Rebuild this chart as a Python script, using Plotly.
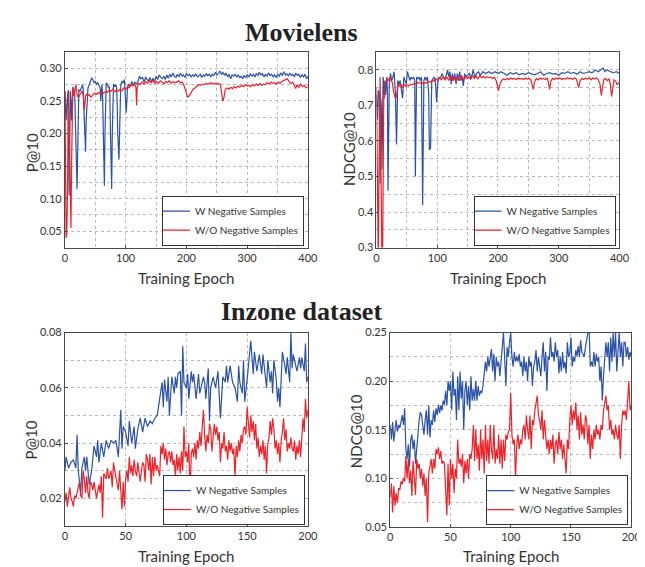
import plotly.graph_objects as go

# ---------------- data (epoch, value) ----------------
# Movielens P@10, with negative samples
ml_p_w = [(0,0.265),(1,0.25),(2,0.22),(3,0.24),(4,0.255),(5,0.265),(6,0.18),(7,0.105),(8,0.19),(9,0.265),
          (10,0.25),(11,0.22),(12,0.25),(13,0.272),(14,0.265),(15,0.262),(16,0.268),(17,0.22),(18,0.17),(19,0.13),
          (20,0.115),(21,0.17),(22,0.24),(23,0.268),(25,0.265),(27,0.272),(29,0.275),(30,0.27),(31,0.24),(33,0.18),
          (34,0.172),(35,0.22),(37,0.265),(38,0.27),(40,0.275),(42,0.282),(44,0.285),(46,0.283),(48,0.278),(50,0.28),
          (52,0.276),(54,0.278),(56,0.273),(58,0.27),(59,0.25),(60,0.262),(61,0.275),(62,0.26),(63,0.2),(64,0.145),
          (65,0.12),(66,0.2),(67,0.27),(68,0.278),(70,0.275),(72,0.27),(73,0.272),(74,0.26),(75,0.2),(76,0.14),
          (77,0.115),(78,0.2),(79,0.27),(80,0.276),(82,0.272),(84,0.275),(85,0.27),(86,0.25),(87,0.2),(88,0.17),
          (89,0.16),(90,0.2),(91,0.265),(92,0.275),(94,0.28),(96,0.278),(98,0.283),(99,0.27),(100,0.25),(101,0.232),
          (102,0.25),(103,0.27),(105,0.276),(108,0.272),(110,0.28),(113,0.274),(115,0.279),(118,0.276),(120,0.28),
          (123,0.288),(125,0.284),(128,0.286),(130,0.279),(133,0.287),(135,0.283),(138,0.281),(140,0.286),(143,0.279),
          (145,0.285),(148,0.28),(150,0.288),(153,0.283),(155,0.29),(158,0.286),(160,0.284),(163,0.288),(165,0.283),
          (168,0.29),(170,0.285),(173,0.291),(175,0.287),(178,0.293),(180,0.288),(183,0.286),(185,0.291),(188,0.287),
          (190,0.293),(193,0.288),(195,0.29),(198,0.286),(200,0.292),(203,0.289),(205,0.291),(208,0.287),(210,0.29),
          (213,0.288),(215,0.292),(218,0.287),(220,0.289),(223,0.291),(225,0.286),(228,0.29),(230,0.288),(233,0.292),
          (235,0.289),(238,0.291),(240,0.287),(243,0.291),(245,0.289),(248,0.294),(250,0.29),(253,0.292),(255,0.296),
          (258,0.291),(260,0.294),(263,0.289),(265,0.293),(268,0.287),(270,0.291),(273,0.284),(275,0.29),(278,0.288),
          (280,0.291),(283,0.287),(285,0.29),(288,0.286),(290,0.288),(293,0.284),(295,0.289),(298,0.286),(300,0.29),
          (303,0.287),(305,0.292),(308,0.288),(310,0.291),(313,0.287),(315,0.292),(318,0.289),(320,0.294),(323,0.29),
          (325,0.292),(328,0.287),(330,0.291),(333,0.288),(335,0.293),(338,0.289),(340,0.291),(343,0.287),(345,0.29),
          (348,0.286),(350,0.291),(353,0.288),(355,0.293),(358,0.289),(360,0.295),(363,0.29),(365,0.292),(368,0.288),
          (370,0.293),(373,0.289),(375,0.291),(378,0.287),(380,0.293),(383,0.289),(385,0.291),(388,0.286),(390,0.29),
          (393,0.287),(395,0.291),(398,0.284),(400,0.288)]
# Movielens P@10, without negative samples
ml_p_wo = [(0,0.265),(1,0.15),(2,0.04),(3,0.045),(4,0.09),(5,0.2),(6,0.267),(7,0.22),(8,0.15),(9,0.08),
           (10,0.055),(11,0.15),(12,0.24),(13,0.27),(14,0.262),(15,0.258),(16,0.265),(17,0.27),(18,0.275),(19,0.268),
           (20,0.26),(22,0.255),(24,0.258),(26,0.262),(28,0.265),(30,0.26),(32,0.236),(34,0.258),(36,0.26),(38,0.258),
           (40,0.26),(43,0.256),(46,0.259),(49,0.262),(52,0.26),(55,0.263),(58,0.261),(61,0.264),(64,0.262),(67,0.265),
           (70,0.263),(73,0.267),(76,0.265),(79,0.268),(82,0.264),(85,0.267),(88,0.265),(91,0.268),(94,0.266),(97,0.27),
           (100,0.268),(103,0.272),(106,0.27),(109,0.276),(112,0.273),(115,0.277),(117,0.27),(118,0.243),(119,0.27),
           (121,0.277),(124,0.275),(127,0.279),(130,0.276),(133,0.28),(136,0.277),(139,0.281),(142,0.278),(145,0.282),
           (148,0.277),(151,0.28),(154,0.277),(157,0.281),(160,0.279),(163,0.276),(166,0.28),(169,0.278),(172,0.281),
           (175,0.277),(178,0.28),(181,0.278),(184,0.279),(187,0.281),(190,0.278),(193,0.279),(196,0.274),(199,0.265),
           (202,0.256),(205,0.258),(208,0.263),(211,0.268),(214,0.27),(217,0.272),(220,0.275),(223,0.274),(226,0.276),
           (229,0.275),(232,0.277),(235,0.276),(238,0.277),(241,0.278),(244,0.276),(247,0.277),(250,0.276),(253,0.277),
           (256,0.275),(258,0.265),(260,0.25),(262,0.256),(264,0.268),(267,0.27),(270,0.268),(273,0.271),(276,0.269),
           (279,0.272),(282,0.27),(285,0.273),(288,0.271),(291,0.274),(294,0.272),(297,0.275),(300,0.273),(303,0.274),
           (306,0.272),(309,0.275),(312,0.273),(315,0.276),(318,0.274),(321,0.277),(324,0.274),(327,0.276),(330,0.275),
           (333,0.278),(336,0.276),(339,0.279),(342,0.277),(345,0.278),(348,0.276),(351,0.279),(354,0.277),(357,0.28),
           (360,0.281),(363,0.283),(366,0.284),(369,0.28),(372,0.277),(375,0.279),(378,0.272),(380,0.269),(382,0.275),
           (385,0.271),(388,0.276),(391,0.272),(394,0.274),(397,0.27),(400,0.272)]
# Movielens NDCG@10, with negative samples
ml_n_w = [(0,0.73),(1,0.70),(2,0.66),(3,0.74),(4,0.74),(5,0.72),(6,0.48),(7,0.72),(8,0.70),(9,0.52),
          (10,0.72),(11,0.78),(12,0.76),(13,0.72),(14,0.77),(15,0.73),(17,0.78),(18,0.73),(19,0.46),(21,0.76),
          (23,0.79),(25,0.77),(27,0.78),(29,0.795),(31,0.74),(33,0.59),(35,0.77),(37,0.76),(39,0.77),(41,0.75),
          (43,0.72),(45,0.78),(47,0.77),(49,0.76),(51,0.795),(53,0.78),(55,0.77),(57,0.78),(59,0.775),(61,0.78),
          (63,0.77),(64,0.50),(66,0.78),(68,0.775),(70,0.78),(72,0.77),(74,0.78),(76,0.42),(78,0.77),(80,0.78),
          (82,0.77),(84,0.78),(86,0.73),(87,0.575),(89,0.58),(91,0.77),(93,0.775),(95,0.78),(97,0.765),(99,0.71),
          (101,0.765),(103,0.78),(105,0.775),(108,0.79),(110,0.78),(112,0.775),(115,0.785),(117,0.80),(119,0.78),
          (121,0.795),(123,0.76),(125,0.79),(127,0.77),(129,0.79),(131,0.76),(133,0.79),(135,0.77),(137,0.795),
          (139,0.77),(141,0.78),(143,0.755),(145,0.79),(147,0.78),(150,0.785),(153,0.79),(156,0.775),(159,0.80),
          (162,0.78),(165,0.79),(168,0.795),(171,0.785),(175,0.795),(180,0.79),(185,0.795),(190,0.79),(195,0.795),
          (200,0.79),(205,0.795),(210,0.79),(215,0.785),(220,0.792),(225,0.788),(230,0.792),(235,0.786),(240,0.79),
          (245,0.787),(250,0.792),(255,0.788),(260,0.786),(265,0.79),(270,0.795),(275,0.785),(280,0.79),(285,0.792),
          (290,0.788),(295,0.79),(300,0.785),(305,0.792),(310,0.79),(315,0.795),(320,0.79),(325,0.793),(330,0.788),
          (335,0.795),(340,0.79),(345,0.792),(350,0.795),(355,0.792),(360,0.80),(365,0.795),(370,0.80),(373,0.805),
          (376,0.795),(380,0.80),(385,0.795),(390,0.792),(395,0.795),(400,0.79)]
# Movielens NDCG@10, without negative samples
ml_n_wo = [(0,0.75),(1,0.5),(2,0.25),(3,0.25),(4,0.5),(5,0.72),(6,0.78),(7,0.6),(8,0.35),(9,0.25),
           (10,0.25),(11,0.5),(12,0.73),(13,0.72),(14,0.75),(15,0.76),(16,0.77),(17,0.765),(18,0.775),(20,0.77),
           (22,0.78),(24,0.77),(26,0.765),(28,0.74),(30,0.725),(32,0.72),(34,0.745),(36,0.76),(38,0.755),(40,0.76),
           (42,0.75),(44,0.755),(46,0.76),(48,0.752),(50,0.758),(53,0.755),(56,0.76),(59,0.758),(62,0.762),(65,0.76),
           (68,0.765),(71,0.762),(74,0.766),(77,0.76),(80,0.765),(83,0.763),(86,0.768),(89,0.765),(92,0.77),(95,0.768),
           (98,0.775),(101,0.77),(104,0.778),(107,0.772),(110,0.78),(113,0.772),(116,0.78),(119,0.77),(122,0.785),
           (125,0.77),(128,0.782),(131,0.765),(134,0.78),(137,0.77),(140,0.785),(143,0.772),(146,0.78),(149,0.775),
           (152,0.78),(155,0.774),(158,0.785),(161,0.776),(164,0.782),(167,0.775),(170,0.784),(173,0.778),(176,0.782),
           (179,0.777),(182,0.781),(185,0.778),(188,0.78),(191,0.776),(194,0.779),(197,0.77),(199,0.752),(201,0.742),
           (203,0.758),(206,0.77),(209,0.775),(212,0.772),(215,0.776),(218,0.773),(221,0.777),(224,0.774),(227,0.776),
           (230,0.773),(233,0.777),(236,0.774),(239,0.776),(242,0.773),(245,0.777),(248,0.774),(251,0.776),(254,0.773),
           (256,0.76),(258,0.745),(260,0.765),(263,0.776),(266,0.772),(269,0.777),(272,0.774),(275,0.776),(278,0.773),
           (281,0.777),(283,0.765),(285,0.745),(287,0.768),(290,0.776),(293,0.773),(296,0.777),(299,0.774),(302,0.777),
           (305,0.773),(308,0.776),(311,0.774),(314,0.778),(317,0.775),(320,0.777),(323,0.773),(326,0.778),(329,0.774),
           (331,0.76),(333,0.75),(335,0.768),(338,0.776),(341,0.773),(344,0.777),(347,0.774),(350,0.778),(353,0.772),
           (356,0.777),(359,0.774),(362,0.778),(365,0.772),(368,0.76),(370,0.728),(372,0.755),(374,0.772),(377,0.776),
           (380,0.77),(383,0.775),(385,0.76),(387,0.725),(389,0.755),(391,0.772),(394,0.768),(396,0.758),(398,0.762),
           (400,0.765)]
# Inzone P@10, with negative samples
iz_p_w = [(0,0.030),(1,0.035),(3,0.031),(5,0.033),(7,0.034),(9,0.031),(10,0.043),(11,0.030),(13,0.022),(14,0.031),
          (16,0.035),(17,0.030),(18,0.035),(20,0.025),(22,0.030),(24,0.039),(26,0.035),(27,0.041),(28,0.033),(30,0.040),
          (32,0.035),(34,0.041),(36,0.038),(38,0.041),(40,0.040),(42,0.041),(44,0.035),(46,0.052),(47,0.038),(48,0.046),
          (50,0.044),(52,0.039),(53,0.048),(55,0.040),(57,0.046),(58,0.038),(60,0.045),(62,0.049),(64,0.044),(66,0.049),
          (68,0.046),(70,0.048),(72,0.047),(74,0.049),(76,0.050),(78,0.056),(80,0.062),(81,0.053),(82,0.063),(84,0.055),
          (85,0.064),(86,0.050),(88,0.064),(90,0.058),(91,0.064),(92,0.060),(93,0.065),(95,0.066),(96,0.050),(97,0.075),
          (98,0.062),(100,0.060),(101,0.065),(102,0.056),(104,0.066),(105,0.062),(106,0.065),(108,0.056),(110,0.065),
          (111,0.058),(112,0.060),(114,0.064),(115,0.062),(116,0.056),(118,0.067),(119,0.048),(120,0.060),(122,0.064),
          (124,0.060),(126,0.066),(128,0.049),(130,0.064),(132,0.062),(133,0.068),(134,0.062),(136,0.068),(138,0.062),
          (140,0.060),(142,0.055),(143,0.068),(144,0.062),(146,0.058),(147,0.070),(148,0.055),(150,0.063),(152,0.071),
          (153,0.077),(155,0.065),(156,0.073),(158,0.066),(160,0.072),(162,0.065),(163,0.072),(165,0.064),(166,0.060),
          (167,0.070),(169,0.062),(170,0.066),(171,0.058),(172,0.070),(174,0.063),(175,0.055),(176,0.060),(177,0.053),
          (178,0.066),(179,0.073),(181,0.068),(182,0.065),(183,0.071),(185,0.062),(186,0.080),(187,0.067),(188,0.072),
          (190,0.068),(191,0.066),(193,0.071),(194,0.067),(195,0.071),(197,0.066),(198,0.076),(199,0.062),(200,0.064)]
# Inzone P@10, without negative samples
iz_p_wo = [(0,0.019),(1,0.022),(2,0.017),(3,0.022),(4,0.024),(5,0.020),(6,0.019),(7,0.017),(8,0.021),(9,0.020),
           (10,0.022),(11,0.024),(12,0.026),(13,0.021),(14,0.020),(15,0.030),(16,0.027),(17,0.022),(18,0.028),(19,0.022),
           (20,0.020),(21,0.026),(22,0.025),(23,0.023),(24,0.026),(26,0.020),(27,0.022),(28,0.025),(29,0.022),(30,0.028),
           (31,0.013),(32,0.029),(34,0.027),(35,0.031),(36,0.027),(38,0.030),(39,0.024),(40,0.033),(41,0.030),(42,0.028),
           (43,0.026),(44,0.023),(45,0.030),(46,0.022),(47,0.016),(48,0.026),(49,0.017),(50,0.027),(51,0.030),(52,0.026),
           (53,0.035),(54,0.029),(55,0.032),(56,0.028),(57,0.034),(58,0.030),(59,0.028),(60,0.033),(62,0.026),(63,0.030),
           (64,0.033),(65,0.032),(66,0.026),(67,0.036),(68,0.034),(69,0.030),(70,0.036),(71,0.025),(72,0.035),(73,0.028),
           (74,0.035),(75,0.030),(76,0.032),(78,0.028),(79,0.039),(80,0.036),(81,0.040),(82,0.034),(83,0.038),(84,0.032),
           (85,0.036),(86,0.037),(87,0.033),(88,0.037),(89,0.032),(90,0.034),(91,0.028),(92,0.036),(93,0.030),(94,0.035),
           (95,0.029),(96,0.037),(97,0.030),(98,0.046),(99,0.035),(100,0.037),(101,0.033),(102,0.040),(103,0.020),
           (104,0.036),(105,0.038),(106,0.035),(107,0.040),(108,0.034),(109,0.041),(110,0.038),(111,0.044),(112,0.039),
           (113,0.045),(114,0.052),(115,0.043),(116,0.037),(117,0.043),(118,0.040),(119,0.047),(120,0.045),(121,0.037),
           (122,0.042),(123,0.047),(124,0.043),(125,0.046),(126,0.041),(127,0.044),(128,0.033),(129,0.040),(130,0.038),
           (131,0.044),(132,0.037),(133,0.039),(134,0.034),(135,0.041),(136,0.037),(137,0.040),(138,0.036),(139,0.038),
           (140,0.028),(141,0.039),(142,0.035),(143,0.041),(144,0.037),(145,0.043),(146,0.040),(147,0.045),(148,0.046),
           (149,0.043),(150,0.053),(151,0.046),(152,0.042),(153,0.050),(154,0.044),(155,0.048),(156,0.041),(157,0.047),
           (158,0.038),(159,0.042),(160,0.035),(161,0.039),(162,0.036),(163,0.041),(164,0.034),(165,0.039),(166,0.029),
           (167,0.040),(168,0.042),(169,0.048),(170,0.043),(171,0.049),(172,0.045),(173,0.038),(174,0.041),(175,0.036),
           (176,0.040),(177,0.033),(178,0.041),(179,0.044),(180,0.049),(181,0.041),(182,0.045),(183,0.037),(184,0.040),
           (185,0.038),(186,0.042),(187,0.038),(188,0.037),(189,0.041),(190,0.034),(191,0.039),(192,0.036),(193,0.041),
           (194,0.035),(195,0.042),(196,0.049),(197,0.044),(198,0.056),(199,0.049),(200,0.052)]
# Inzone NDCG@10, with negative samples (one value per epoch 0..200)
iz_n_w_vals = [0.155,0.14,0.158,0.138,0.15,0.16,0.148,0.155,0.152,0.16,0.165,0.155,0.172,0.13,0.12,0.135,0.112,0.14,0.145,0.13,
               0.14,0.115,0.13,0.15,0.16,0.168,0.165,0.155,0.145,0.16,0.17,0.145,0.175,0.142,0.16,0.155,0.17,0.158,0.172,0.165,
               0.176,0.167,0.175,0.17,0.18,0.176,0.19,0.175,0.2,0.19,0.2,0.17,0.21,0.185,0.192,0.16,0.205,0.17,0.21,0.182,
               0.2,0.15,0.19,0.2,0.175,0.195,0.17,0.205,0.18,0.192,0.18,0.2,0.18,0.195,0.185,0.19,0.188,0.195,0.205,0.22,
               0.21,0.225,0.215,0.223,0.233,0.21,0.228,0.2,0.225,0.215,0.22,0.205,0.225,0.235,0.25,0.22,0.195,0.235,0.225,0.24,
               0.25,0.225,0.215,0.23,0.22,0.225,0.22,0.228,0.215,0.22,0.205,0.225,0.21,0.22,0.2,0.225,0.215,0.22,0.195,0.215,
               0.22,0.232,0.21,0.225,0.215,0.205,0.225,0.24,0.21,0.23,0.19,0.225,0.222,0.245,0.225,0.23,0.22,0.24,0.225,0.232,
               0.208,0.225,0.21,0.23,0.213,0.22,0.208,0.24,0.225,0.228,0.245,0.215,0.225,0.22,0.232,0.226,0.236,0.225,0.242,0.23,
               0.228,0.225,0.235,0.245,0.25,0.255,0.215,0.22,0.215,0.23,0.215,0.228,0.22,0.225,0.2,0.215,0.18,0.205,0.22,0.24,
               0.225,0.24,0.21,0.245,0.22,0.25,0.225,0.25,0.21,0.23,0.25,0.225,0.24,0.215,0.24,0.24,0.225,0.235,0.222,0.23,
               0.225]
# Inzone NDCG@10, without negative samples (one value per epoch 0..200)
iz_n_wo_vals = [0.08,0.095,0.065,0.092,0.072,0.085,0.075,0.09,0.088,0.097,0.094,0.1,0.097,0.123,0.1,0.12,0.095,0.108,0.082,0.118,
                0.1,0.083,0.12,0.11,0.115,0.1,0.11,0.092,0.105,0.082,0.1,0.055,0.105,0.115,0.12,0.105,0.12,0.11,0.13,0.125,
                0.132,0.12,0.128,0.115,0.118,0.115,0.09,0.062,0.115,0.072,0.12,0.1,0.115,0.085,0.11,0.1,0.14,0.115,0.12,0.112,
                0.125,0.095,0.118,0.105,0.12,0.1,0.125,0.12,0.13,0.155,0.118,0.15,0.12,0.135,0.108,0.15,0.12,0.14,0.105,0.155,
                0.118,0.14,0.115,0.155,0.13,0.12,0.155,0.115,0.13,0.12,0.145,0.115,0.14,0.11,0.14,0.118,0.145,0.14,0.148,0.15,
                0.188,0.145,0.135,0.14,0.1,0.135,0.145,0.13,0.14,0.135,0.15,0.155,0.14,0.165,0.15,0.14,0.165,0.13,0.16,0.155,
                0.17,0.178,0.185,0.165,0.16,0.15,0.17,0.14,0.16,0.145,0.13,0.14,0.125,0.14,0.13,0.145,0.115,0.135,0.14,0.125,
                0.148,0.13,0.14,0.12,0.135,0.12,0.105,0.14,0.13,0.16,0.175,0.155,0.17,0.16,0.178,0.15,0.165,0.14,0.168,0.145,
                0.155,0.14,0.165,0.16,0.135,0.155,0.12,0.145,0.13,0.15,0.14,0.155,0.145,0.15,0.14,0.155,0.15,0.17,0.18,0.185,
                0.17,0.175,0.15,0.16,0.145,0.15,0.14,0.155,0.145,0.14,0.155,0.12,0.155,0.17,0.165,0.17,0.16,0.18,0.2,0.17,
                0.175]
iz_epochs = list(range(len(iz_n_w_vals)))

series_names = ["W Negative Samples", "W/O Negative Samples"]
panel_titles = ["Movielens", "Inzone dataset"]
y_titles = ["P@10", "NDCG@10", "P@10", "NDCG@10"]
x_title = "Training Epoch"

BLUE = "#2a52a6"
RED = "#ee2228"
SANS = "Lato"
SERIF = "Liberation Serif"
GRID = "#b8b8b8"
FRAME = "#4a4a4a"

def unzip(pairs):
    return [p[0] for p in pairs], [p[1] for p in pairs]

panels = [
    (unzip(ml_p_w), unzip(ml_p_wo)),
    (unzip(ml_n_w), unzip(ml_n_wo)),
    (unzip(iz_p_w), unzip(iz_p_wo)),
    ((iz_epochs, iz_n_w_vals), (iz_epochs, iz_n_wo_vals)),
]

W, H = 645, 567
# plot boxes in pixels: (left, right, top, bottom)
boxes = [(55, 303, 38, 238), (373, 621, 38, 238), (55, 303, 325, 523), (387, 633, 325, 524)]
legend_pos = [(299, 236), (617, 236), (300, 522), (630, 522)]

fig = go.Figure()
for i, (w, wo) in enumerate(panels):
    sfx = "" if i == 0 else str(i + 1)
    lg = "legend" + sfx
    for (xs, ys), name, col in ((w, series_names[0], BLUE), (wo, series_names[1], RED)):
        fig.add_trace(go.Scatter(x=xs, y=ys, mode="lines", name=name,
                                 line=dict(color=col, width=1.2),
                                 xaxis="x" + sfx, yaxis="y" + sfx, legend=lg))

yspecs = [
    dict(range=[0.025, 0.325], tick0=0.05, dtick=0.05, tickformat=".2f", minor=0.025),
    dict(range=[0.3, 0.85], tick0=0.3, dtick=0.1, tickformat=".1f", minor=0.05),
    dict(range=[0.01, 0.08], tick0=0.02, dtick=0.02, tickformat=".2f", minor=0.01),
    dict(range=[0.05, 0.25], tick0=0.05, dtick=0.05, tickformat=".2f", minor=0.025),
]
xspecs = [
    dict(range=[0, 400], dtick=100, minor=50),
    dict(range=[0, 400], dtick=100, minor=50),
    dict(range=[0, 200], dtick=50, minor=None),
    dict(range=[0, 200], dtick=50, minor=None),
]

DASH = "3px,3px"
common = dict(showline=True, mirror=True, linecolor=FRAME, linewidth=1,
              ticks="inside", ticklen=3, tickcolor=FRAME,
              showgrid=True, gridcolor=GRID, gridwidth=0.8, griddash=DASH,
              zeroline=False, tickfont=dict(family=SANS, size=11, color="#333333"))

layout = dict(width=W, height=H, margin=dict(l=0, r=0, t=0, b=0),
              paper_bgcolor="white", plot_bgcolor="white", showlegend=True)

for i in range(4):
    sfx = "" if i == 0 else str(i + 1)
    l, r, t, b = boxes[i]
    xs, ys = xspecs[i], yspecs[i]
    xa = dict(common, domain=[l / W, r / W], range=xs["range"], tick0=0, dtick=xs["dtick"],
              anchor="y" + sfx)
    if xs["minor"]:
        xa["minor"] = dict(dtick=xs["minor"], showgrid=True, gridcolor=GRID,
                           griddash=DASH, gridwidth=0.8, ticks="")
    ya = dict(common, domain=[1 - b / H, 1 - t / H], range=ys["range"], tick0=ys["tick0"],
              dtick=ys["dtick"], tickformat=ys["tickformat"], anchor="x" + sfx,
              minor=dict(dtick=ys["minor"], showgrid=True, gridcolor=GRID,
                         griddash=DASH, gridwidth=0.8, ticks=""))
    layout["xaxis" + sfx] = xa
    layout["yaxis" + sfx] = ya
    lx, ly = legend_pos[i]
    layout["legend" + sfx] = dict(x=lx / W, y=1 - ly / H, xanchor="right", yanchor="bottom",
                                  bgcolor="white", bordercolor="#333333", borderwidth=1,
                                  font=dict(family=SANS, size=10, color="#333333"),
                                  tracegroupgap=0, indentation=-8)

annotations = []
for txt, py in ((panel_titles[0], 18), (panel_titles[1], 303)):
    annotations.append(dict(text="<b>%s</b>" % txt, x=296 / W, y=1 - py / H, xref="paper", yref="paper",
                            xanchor="center", yanchor="middle", showarrow=False,
                            font=dict(family=SERIF, size=26, color="#222222")))
for cx, py in ((179, 269), (497, 269), (179, 554), (510, 554)):
    annotations.append(dict(text=x_title, x=cx / W, y=1 - py / H, xref="paper", yref="paper",
                            xanchor="center", yanchor="middle", showarrow=False,
                            font=dict(family=SANS, size=15, color="#333333")))
for (px, py), txt in zip(((21, 141), (345, 137), (20, 435), (352, 426)), y_titles):
    annotations.append(dict(text=txt, x=px / W, y=1 - py / H, xref="paper", yref="paper",
                            xanchor="center", yanchor="middle", showarrow=False, textangle=-90,
                            font=dict(family=SANS, size=15, color="#333333")))
layout["annotations"] = annotations

fig.update_layout(**layout)
fig.write_html("out.html")
